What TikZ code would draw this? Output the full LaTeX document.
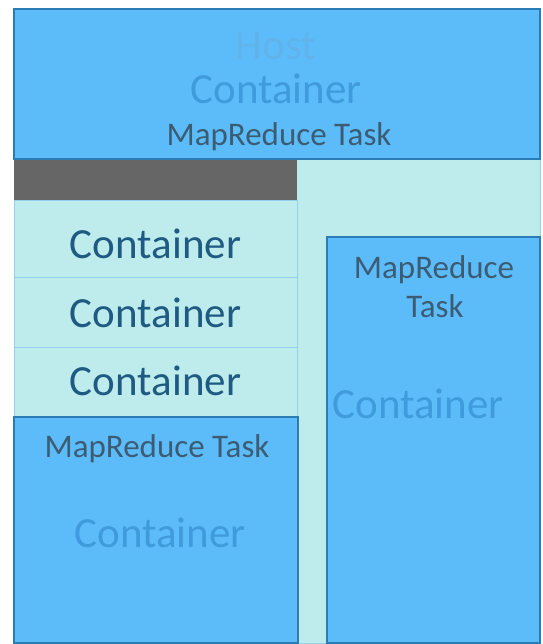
\documentclass[tikz,border=0pt]{standalone}
\usepackage{fontspec}
\setmainfont{Carlito}
\usetikzlibrary{positioning, fit, calc}
\definecolor{boxblue}{HTML}{5CBCFA}
\definecolor{paleaqua}{HTML}{BEECEC}
\definecolor{bargrey}{HTML}{666666}
\definecolor{edgeblue}{HTML}{2B7BB5}
\definecolor{rowline}{HTML}{94D0EC}
\definecolor{hosttxt}{HTML}{62B3EC}
\definecolor{ctrtxt}{HTML}{3F9BDC}
\definecolor{navytxt}{HTML}{1E5A82}
\definecolor{tasktxt}{HTML}{3C5C74}
\begin{document}
\begin{tikzpicture}[x=1pt, y=-1pt,
  block/.style={inner sep=0pt, outer sep=0pt, anchor=north west},
  bluebox/.style={block, fill=boxblue, draw=edgeblue, line width=1.2pt},
  rowbox/.style={block, fill=paleaqua, draw=rowline, line width=0.8pt,
    minimum width=283pt, minimum height=70pt},
  bigtxt/.style={inner sep=0pt, anchor=base, font=\fontsize{43}{45}\selectfont},
  smalltxt/.style={inner sep=0pt, anchor=base, font=\fontsize{33}{38}\selectfont,
    text=tasktxt}]
  \useasboundingbox (0,0) rectangle (542,644);
  % host band and lower area
  \node[block, fill=paleaqua, draw=rowline, line width=0.8pt,
    minimum width=526pt, minimum height=484pt] (lower) at (14,159) {};
  \node[bluebox, minimum width=526pt, minimum height=150pt] (host) at (14,9) {};
  \node[block, fill=bargrey, minimum width=283pt, minimum height=41pt] (bar) at (14,160) {};
  % stack of containers
  \node[rowbox, minimum height=77pt] (row1) at (14,200) {};
  \node[rowbox] (row2) at (14,277) {};
  \node[rowbox] (row3) at (14,347) {};
  % task boxes
  \node[bluebox, minimum width=284pt, minimum height=226pt] (lefttask) at (14,417) {};
  \node[bluebox, minimum width=213pt, minimum height=406pt] (righttask) at (327,237) {};
  % labels
  \node[bigtxt, text=hosttxt] (hostlbl) at (276,60) {Host};
  \node[bigtxt, text=ctrtxt] (hostctr) at (276,104) {Container};
  \node[smalltxt] (hosttask) at (279,146) {MapReduce Task};
  \foreach \row/\base in {1/258, 2/327, 3/395}
    \node[bigtxt, text=navytxt] (ctr\row) at (155.5,\base) {Container};
  \node[smalltxt] (lefttasklbl) at (157,457) {MapReduce Task};
  \node[bigtxt, text=ctrtxt] (leftctr) at (160,547) {Container};
  \node[smalltxt] (righttasklbl) at (434,278) {MapReduce};
  \node[smalltxt] (righttasklbl2) at (435,317) {Task};
  \node[bigtxt, text=ctrtxt] (rightctr) at (418,418) {Container};
\end{tikzpicture}
\end{document}
